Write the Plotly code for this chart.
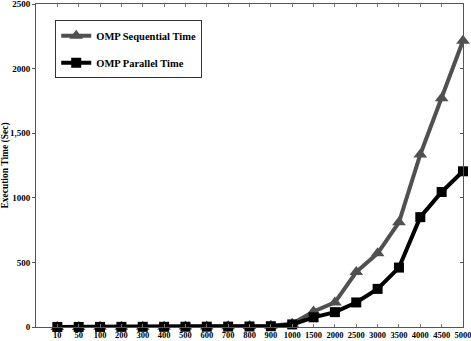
import plotly.graph_objects as go

categories = ["10", "50", "100", "200", "300", "400", "500", "600", "700", "800", "900",
              "1000", "1500", "2000", "2500", "3000", "3500", "4000", "4500", "5000"]
seq_time = [0.5, 0.8, 1, 1.5, 2, 2.5, 3, 4, 5, 7, 10, 25, 120, 190, 425, 570, 810, 1335, 1770, 2215]
par_time = [0.3, 0.5, 0.7, 1, 1.2, 1.5, 2, 2.5, 3, 4, 6, 20, 75, 115, 190, 295, 460, 850, 1045, 1205]
ytick_vals = [0, 500, 1000, 1500, 2000, 2500]
ytick_text = ["0", "500", "1000", "1,500", "2000", "2500"]

font_family = "Liberation Serif"

fig = go.Figure()
fig.add_trace(go.Scatter(
    x=categories, y=seq_time, name="<b>OMP Sequential Time</b>", mode="lines+markers",
    legendgroup="seq",
    line=dict(color="#505050", width=4),
    marker=dict(symbol="triangle-up", size=12, color="#505050"),
    cliponaxis=False))
fig.add_trace(go.Scatter(
    x=categories, y=par_time, name="<b>OMP Parallel Time</b>", mode="lines+markers",
    legendgroup="par",
    line=dict(color="#000000", width=4),
    marker=dict(symbol="square", size=10, color="#000000"),
    cliponaxis=False))
# invisible trace for right-side axis ticks
fig.add_trace(go.Scatter(x=categories, y=seq_time, yaxis="y2", showlegend=False,
                         mode="markers", marker=dict(opacity=0), hoverinfo="skip"))

fig.update_layout(
    width=471, height=341,
    margin=dict(l=36, r=8, t=4, b=14, autoexpand=False),
    paper_bgcolor="white", plot_bgcolor="white",
    font=dict(family=font_family, size=10, color="black"),
    showlegend=True,
    legend=dict(x=0.045, y=0.95, xanchor="left", yanchor="top",
                bordercolor="#333", borderwidth=1, bgcolor="white",
                font=dict(family=font_family, size=10.5, color="black"),
                tracegroupgap=8, itemwidth=30),
    xaxis=dict(type="category", range=[-1, 19], showline=True, linecolor="#555",
               linewidth=1, mirror="ticks", ticks="inside", ticklen=3, tickcolor="#777",
               tickangle=0, automargin=False, ticklabeloverflow="allow",
               tickfont=dict(family=font_family, size=8.5, color="black"),
               showgrid=False, zeroline=False, tickprefix="<b>", ticksuffix="</b>"),
    yaxis=dict(range=[0, 2500], tickvals=ytick_vals,
               ticktext=["<b>" + t + "</b>" for t in ytick_text],
               showline=True, linecolor="#555", linewidth=1, mirror=True,
               ticks="outside", ticklen=3, tickcolor="#555", automargin=False,
               ticklabeloverflow="allow",
               tickfont=dict(family=font_family, size=9, color="black"),
               showgrid=False, zeroline=False,
               title=dict(text="<b>Execution Time (Sec)</b>", standoff=6,
                          font=dict(family=font_family, size=9.5, color="black"))),
    yaxis2=dict(range=[0, 2500], overlaying="y", side="right", tickvals=ytick_vals,
                showticklabels=False, ticks="inside", ticklen=3, tickcolor="#555",
                showgrid=False, zeroline=False, showline=False, automargin=False),
)

fig.write_html("out.html", config={"displayModeBar": False},
               post_script="document.body.style.margin='0';")
